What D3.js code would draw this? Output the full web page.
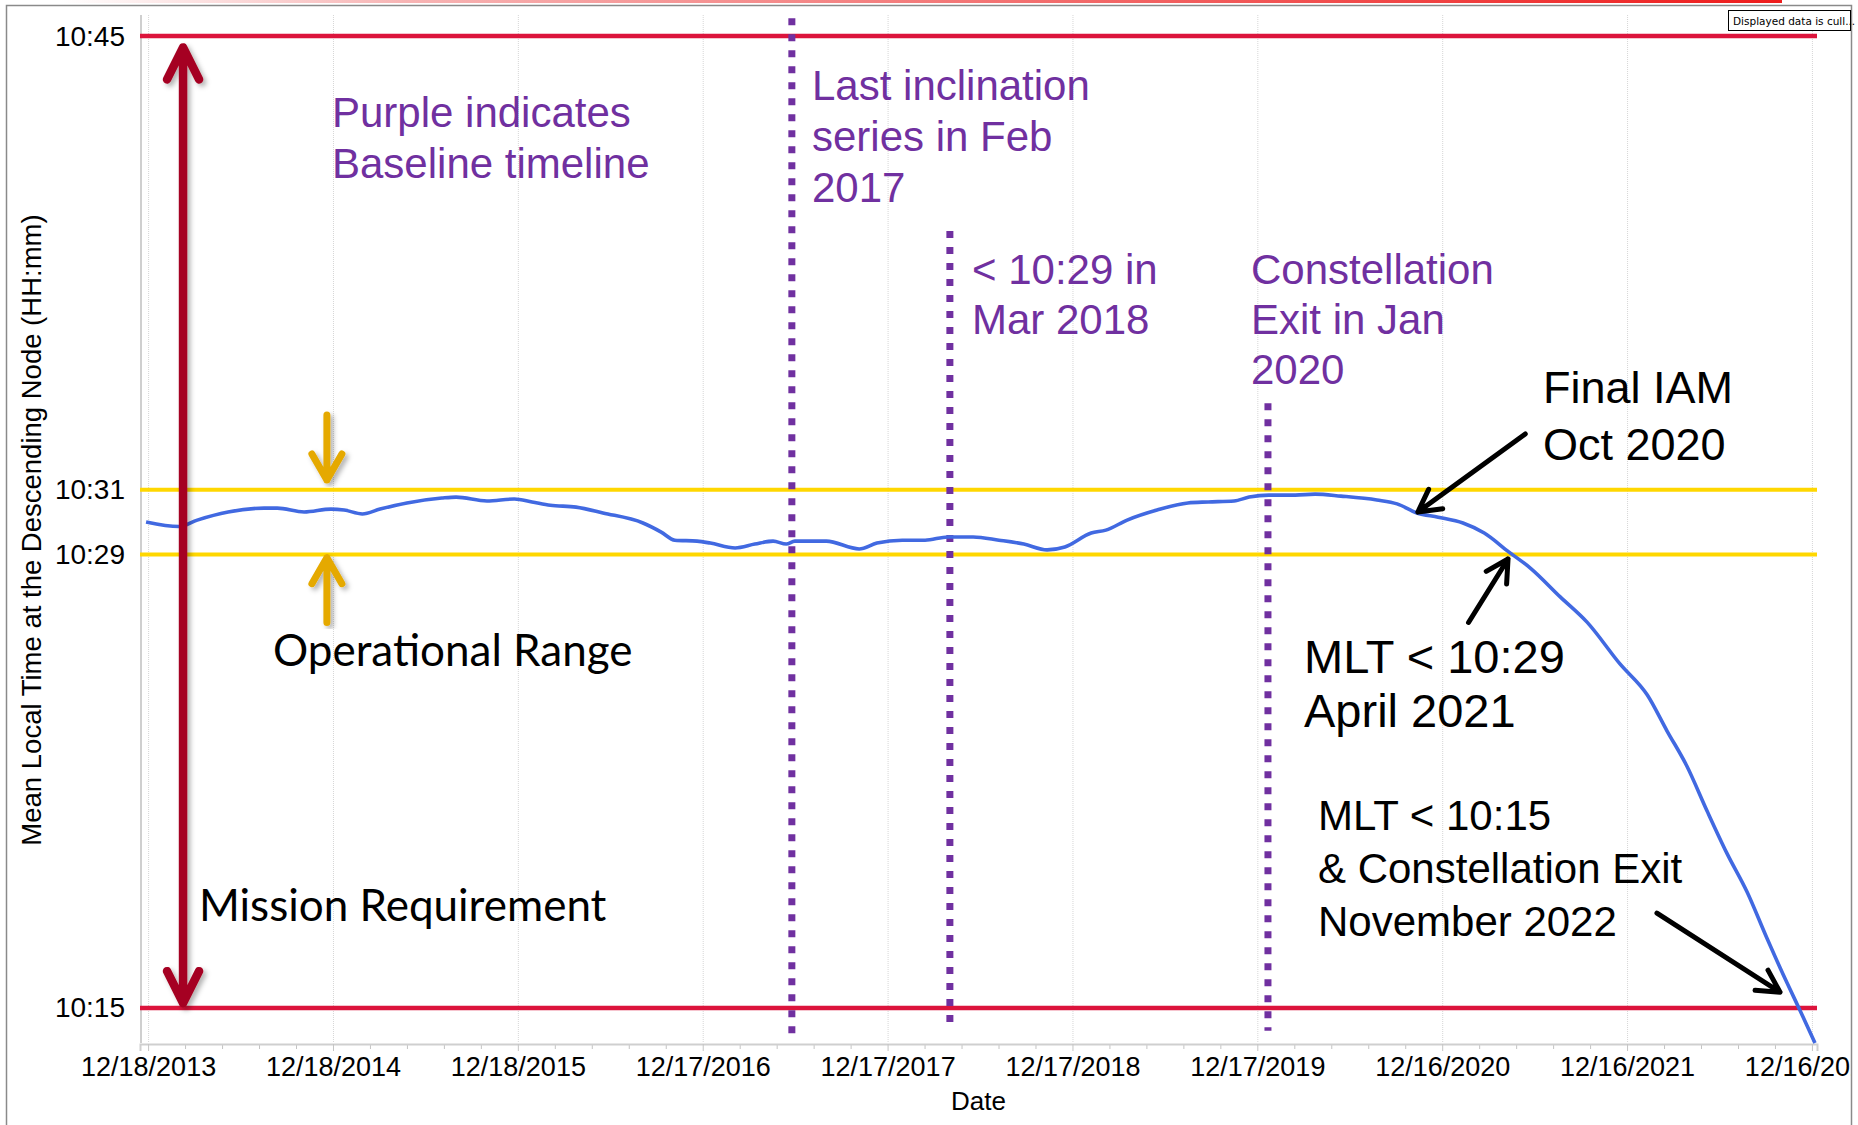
<!DOCTYPE html>
<html>
<head>
<meta charset="utf-8">
<script src="https://cdn.jsdelivr.net/npm/d3@7"></script>
<style>
  body { margin: 0; background: #fff; overflow: hidden; }
  svg { display: block; }
</style>
</head>
<body>
<div id="plot"></div>
<script>
// chart data

const dates = ["2013-12-14","2014-02-17","2014-03-25","2014-05-25","2014-08-04","2014-08-30","2014-10-22","2014-12-14",
  "2015-01-09","2015-02-14","2015-03-21","2015-05-13","2015-07-21","2015-08-18","2015-10-18","2015-12-11",
  "2016-01-15","2016-02-20","2016-04-11","2016-06-03","2016-08-21","2016-09-26","2016-10-23","2016-12-06",
  "2017-01-01","2017-02-19","2017-03-30","2017-05-05","2017-05-31","2017-06-17","2017-08-18","2017-10-22","2017-11-26",
  "2018-01-15","2018-03-01","2018-04-15","2018-06-04","2018-07-25","2018-09-12","2018-10-28","2018-12-02",
  "2019-01-23","2019-02-21","2019-04-04","2019-06-02","2019-08-02","2019-09-11","2019-11-01","2019-12-01",
  "2020-01-09","2020-03-01","2020-04-09","2020-05-30","2020-08-09","2020-09-18","2020-10-27","2020-12-08",
  "2021-01-26","2021-03-09","2021-04-27","2021-06-08","2021-08-06","2021-09-28","2021-12-02",
  "2022-01-25","2022-03-05","2022-04-13","2022-05-23","2022-07-01","2022-08-10","2022-09-18","2022-10-28","2022-11-23","2022-12-22"];

// minutes after 10:00
const mlt = [30.00,29.86,30.06,30.31,30.43,30.43,30.31,30.40,
  30.37,30.25,30.40,30.59,30.74,30.77,30.65,30.71,
  30.62,30.52,30.46,30.28,29.97,29.69,29.44,29.41,
  29.35,29.20,29.32,29.41,29.32,29.41,29.41,29.17,29.35,
  29.44,29.44,29.54,29.54,29.44,29.32,29.14,29.23,
  29.66,29.75,30.06,30.37,30.59,30.62,30.65,30.77,
  30.83,30.83,30.86,30.80,30.68,30.56,30.28,30.15,
  29.97,29.66,29.07,28.58,27.69,26.91,25.62,
  24.66,23.55,22.47,21.08,19.78,18.58,17.16,15.77,14.91,13.92];

const xTickLabels = ["12/18/2013","12/18/2014","12/18/2015","12/17/2016","12/17/2017",
  "12/17/2018","12/17/2019","12/16/2020","12/16/2021","12/16/2022"];

const yTickValues = [15, 29, 31, 45];

const limitValues = [45, 31, 29, 15];
const limitKinds = ["mission", "ops", "ops", "mission"];

// purple event lines: date, top value, bottom value
const eventDates = ["2017-06-11", "2018-04-19", "2020-01-07"];
const eventTops = [45.55, 38.98, 33.67];
const eventBottoms = [14.17, 14.3, 14.3];

// layout
const w = 1858;
const h = 1125;
const margin = {top: 15, right: 41, bottom: 82, left: 140};
const innerWidth = w - margin.left - margin.right;
const innerHeight = h - margin.top - margin.bottom;

const parseDate = d3.timeParse("%Y-%m-%d");
const parseTick = d3.timeParse("%m/%d/%Y");

const series = dates.map((d, i) => ({date: parseDate(d), value: mlt[i]}));

const xScale = d3.scaleTime()
  .domain([parseDate("2013-12-02"), parseDate("2022-12-26")])
  .range([margin.left, margin.left + innerWidth]);

const yScale = d3.scaleLinear()
  .domain([13.92, 45.65])
  .range([margin.top + innerHeight, margin.top]);

const svg = d3.select("div#plot")
  .append("svg")
  .attr("width", w)
  .attr("height", h);

const defs = svg.append("defs");

const shadow = defs.append("filter").attr("id", "shadow")
  .attr("x", "-50%").attr("y", "-10%").attr("width", "200%").attr("height", "120%");
shadow.append("feDropShadow")
  .attr("dx", 3).attr("dy", 3).attr("stdDeviation", 2.5)
  .attr("flood-color", "#000").attr("flood-opacity", 0.3);

const grad = defs.append("linearGradient").attr("id", "topGrad");
grad.append("stop").attr("offset", "0%").attr("stop-color", "#ffffff");
grad.append("stop").attr("offset", "20%").attr("stop-color", "#f7b4b4");
grad.append("stop").attr("offset", "100%").attr("stop-color", "#ee1c1c");

// stray top border line
svg.append("rect")
  .attr("x", 60).attr("y", 0).attr("width", 1722).attr("height", 3)
  .attr("fill", "url(#topGrad)");

const g = svg.append("g");

const tickDates = xTickLabels.map(parseTick);
const minorDates = [];
tickDates.forEach(d => {
  for (let k = 1; k < 5; k++) minorDates.push(d3.timeDay.offset(d, 73 * k));
});

// vertical grid
g.append("g")
  .selectAll("line")
  .data(tickDates)
  .join("line")
  .attr("x1", d => xScale(d) + 0.5)
  .attr("x2", d => xScale(d) + 0.5)
  .attr("y1", margin.top)
  .attr("y2", margin.top + innerHeight)
  .attr("stroke", "#d6d6d6")
  .attr("stroke-width", 1)
  .attr("stroke-dasharray", "1,1");

// minor x ticks, drawn as plain lines
g.append("g")
  .selectAll("line")
  .data(minorDates.filter(d => xScale(d) <= margin.left + innerWidth))
  .join("line")
  .attr("x1", d => xScale(d) + 0.5)
  .attr("x2", d => xScale(d) + 0.5)
  .attr("y1", margin.top + innerHeight + 1)
  .attr("y2", margin.top + innerHeight + 6)
  .attr("stroke", "#c4c4c4");

// x axis
const xAxis = d3.axisBottom(xScale)
  .tickValues(tickDates)
  .tickSize(7)
  .tickPadding(6)
  .tickFormat((d, i) => xTickLabels[i]);

const gx = g.append("g")
  .attr("class", "xAxis")
  .attr("transform", `translate(0, ${margin.top + innerHeight + 1})`)
  .call(xAxis)
  .attr("font-size", null)
  .attr("font-family", null);

gx.select(".domain").attr("stroke", "#cfcfcf").attr("stroke-width", 2);
gx.selectAll(".tick line").attr("stroke", "#c4c4c4");
gx.selectAll(".tick text")
  .attr("font-family", "Liberation Sans, Arial, sans-serif")
  .attr("font-size", 27)
  .attr("fill", "#000");

// y axis
const yAxis = d3.axisLeft(yScale)
  .tickValues(yTickValues)
  .tickSize(0)
  .tickPadding(16)
  .tickFormat(d => "10:" + d3.format("02d")(d));

const gy = g.append("g")
  .attr("class", "yAxis")
  .attr("transform", `translate(${margin.left + 1}, 0)`)
  .call(yAxis)
  .attr("font-size", null)
  .attr("font-family", null);
gy.select(".domain").attr("stroke", "#cfcfcf").attr("stroke-width", 2)
  .attr("d", `M0,${margin.top}V${margin.top + innerHeight}`);
gy.selectAll(".tick text")
  .attr("font-family", "Liberation Sans, Arial, sans-serif")
  .attr("font-size", 28)
  .attr("fill", "#000");

// axis titles
g.append("text")
  .attr("x", margin.left + innerWidth / 2)
  .attr("y", 1110)
  .attr("text-anchor", "middle")
  .attr("font-family", "Liberation Sans, Arial, sans-serif")
  .attr("font-size", 26)
  .text("Date");

g.append("text")
  .attr("transform", "translate(41, 530) rotate(-90)")
  .attr("text-anchor", "middle")
  .attr("font-family", "Liberation Sans, Arial, sans-serif")
  .attr("font-size", 27.5)
  .text("Mean Local Time at the Descending Node (HH:mm)");

// limit lines
g.append("g")
  .selectAll("line")
  .data(limitValues)
  .join("line")
  .attr("x1", margin.left)
  .attr("x2", margin.left + innerWidth)
  .attr("y1", d => yScale(d))
  .attr("y2", d => yScale(d))
  .attr("stroke", (d, i) => limitKinds[i] === "mission" ? "#dc143c" : "#ffd700")
  .attr("stroke-width", (d, i) => limitKinds[i] === "mission" ? 4.5 : 4);

// purple event lines
g.append("g")
  .selectAll("line")
  .data(eventDates)
  .join("line")
  .attr("x1", d => xScale(parseDate(d)))
  .attr("x2", d => xScale(parseDate(d)))
  .attr("y1", (d, i) => yScale(eventTops[i]))
  .attr("y2", (d, i) => yScale(eventBottoms[i]))
  .attr("stroke", "#7030a0")
  .attr("stroke-width", 7)
  .attr("stroke-dasharray", "7,9");

// MLT line
const line = d3.line()
  .x(d => xScale(d.date))
  .y(d => yScale(d.value))
  .curve(d3.curveMonotoneX);

g.append("path")
  .datum(series)
  .attr("d", line)
  .attr("fill", "none")
  .attr("stroke", "#4169e1")
  .attr("stroke-width", 3.6);

// arrows
function arrow(from, to, opts) {
  const x1 = xScale(parseDate(from[0])), y1 = yScale(from[1]);
  const x2 = xScale(parseDate(to[0])), y2 = yScale(to[1]);
  const len = Math.hypot(x2 - x1, y2 - y1);
  const ux = (x2 - x1) / len, uy = (y2 - y1) / len;
  const grp = g.append("g");
  if (opts.shadow) grp.attr("filter", "url(#shadow)");
  const heads = [[x2, y2, ux, uy]];
  if (opts.both) heads.push([x1, y1, -ux, -uy]);
  let d = `M${x1},${y1}L${x2},${y2}`;
  heads.forEach(([tx, ty, vx, vy]) => {
    const wx = -vy, wy = vx;
    d += `M${tx - opts.L * vx + opts.W * wx},${ty - opts.L * vy + opts.W * wy}` +
         `L${tx},${ty}` +
         `L${tx - opts.L * vx - opts.W * wx},${ty - opts.L * vy - opts.W * wy}`;
  });
  grp.append("path")
    .attr("d", d)
    .attr("fill", "none")
    .attr("stroke", opts.color)
    .attr("stroke-width", opts.width)
    .attr("stroke-linecap", "round")
    .attr("stroke-linejoin", "round");
}

// mission requirement double arrow
arrow(["2014-02-25", 15.15], ["2014-02-25", 44.65],
  {color: "#a50021", width: 8.5, L: 32, W: 16, both: true, shadow: true});
// operational range arrows
arrow(["2014-12-06", 33.3], ["2014-12-06", 31.3],
  {color: "#e5a900", width: 7, L: 26, W: 15, shadow: true});
arrow(["2014-12-06", 26.9], ["2014-12-06", 28.9],
  {color: "#e5a900", width: 7, L: 26, W: 15, shadow: true});
// black callouts
arrow(["2021-05-29", 32.72], ["2020-10-29", 30.31],
  {color: "#000", width: 5, L: 22, W: 12});
arrow(["2021-02-06", 26.9], ["2021-04-25", 28.86],
  {color: "#000", width: 5, L: 22, W: 12});
arrow(["2022-02-13", 17.93], ["2022-10-14", 15.49],
  {color: "#000", width: 5, L: 22, W: 12});

// text annotations
function note(lines, x, y0, step, opts) {
  const t = g.append("text")
    .attr("font-family", opts.font)
    .attr("font-size", opts.size)
    .attr("fill", opts.color);
  lines.forEach((s, i) => {
    t.append("tspan").attr("x", x).attr("y", y0 + i * step).text(s);
  });
}

const arial = "Liberation Sans, Arial, sans-serif";
const purple = "#7030a0";

note(["Purple indicates", "Baseline timeline"], 332, 127, 51, {font: arial, size: 42, color: purple});
note(["Last inclination", "series in Feb", "2017"], 812, 100, 51, {font: arial, size: 42, color: purple});
note(["< 10:29 in", "Mar 2018"], 972, 284, 50, {font: arial, size: 42, color: purple});
note(["Constellation", "Exit in Jan", "2020"], 1251, 284, 50, {font: arial, size: 42, color: purple});
note(["Final IAM", "Oct 2020"], 1543, 403, 57, {font: arial, size: 45, color: "#000"});
note(["MLT < 10:29", "April 2021"], 1304, 673, 54, {font: arial, size: 47, color: "#000"});
note(["MLT < 10:15", "& Constellation Exit", "November 2022"], 1318, 830, 53, {font: arial, size: 42, color: "#000"});
note(["Operational Range"], 273, 666, 0, {font: "Lato, sans-serif", size: 44, color: "#000"});
note(["Mission Requirement"], 199, 921, 0, {font: "Lato, sans-serif", size: 44, color: "#000"});

// outside the frame: cover the overhanging last tick label, then the border
svg.append("rect")
  .attr("x", 1852).attr("y", 0).attr("width", 6).attr("height", h)
  .attr("fill", "#fff");
svg.append("path")
  .attr("d", `M6.5,${h}V5.5H1851.5V${h}`)
  .attr("fill", "none")
  .attr("stroke", "#8a8a8a")
  .attr("stroke-width", 1.5);

// culling notice
svg.append("rect")
  .attr("x", 1728.5).attr("y", 10.5).attr("width", 122).attr("height", 20)
  .attr("fill", "#fff").attr("stroke", "#000").attr("stroke-width", 1);
svg.append("text")
  .attr("x", 1733).attr("y", 25)
  .attr("font-family", "DejaVu Sans, sans-serif")
  .attr("font-size", 10.5)
  .text("Displayed data is cull...");
</script>
</body>
</html>
